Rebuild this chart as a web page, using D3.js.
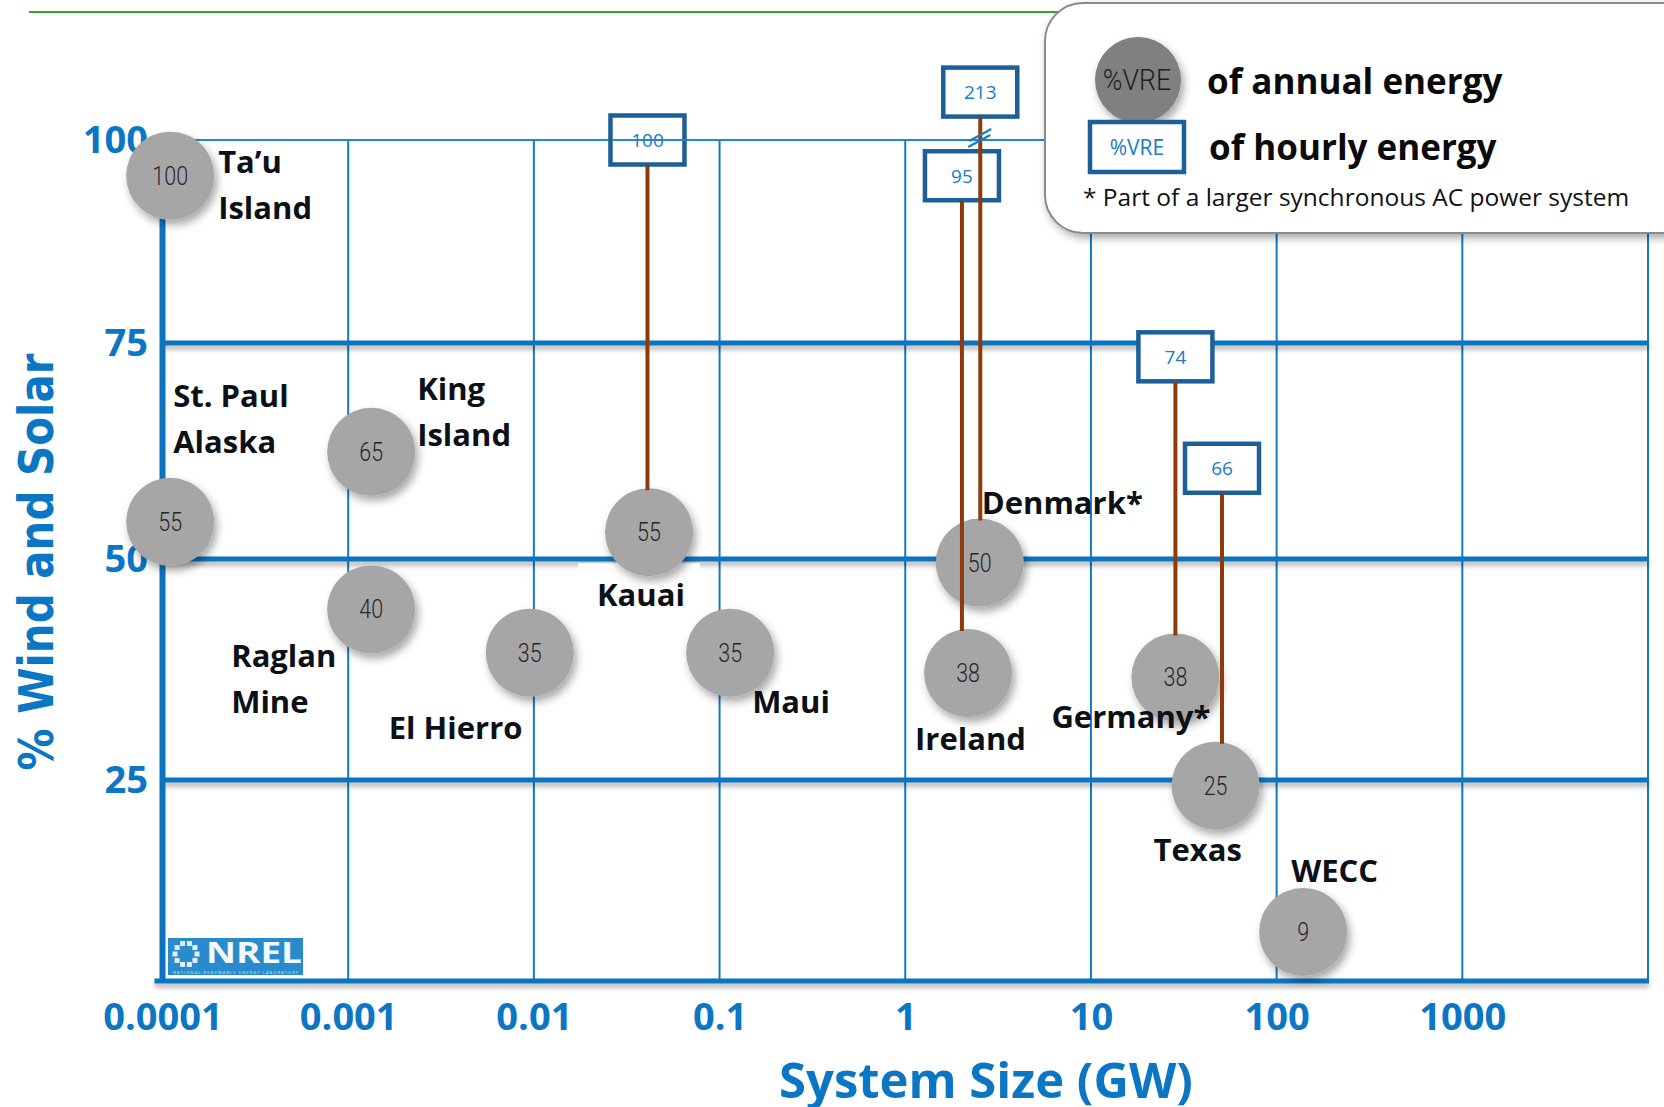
<!DOCTYPE html>
<html><head><meta charset="utf-8">
<script src="https://cdn.jsdelivr.net/npm/d3@7"></script>
<style>
html,body{margin:0;padding:0;background:#fff;}
svg{display:block;}
</style></head>
<body>
<svg id="chart" width="1664" height="1107"></svg>
<script>
// ---------------- data ----------------
const systems = ["Ta’u Island","St. Paul Alaska","King Island","Raglan Mine","El Hierro","Kauai","Maui","Ireland","Denmark*","Germany*","Texas","WECC"];
const labelLines = [["Ta’u","Island"],["St. Paul","Alaska"],["King","Island"],["Raglan","Mine"],["El Hierro"],["Kauai"],["Maui"],["Ireland"],["Denmark*"],["Germany*"],["Texas"],["WECC"]];
const systemSizeGW = [1.1e-4, 1.1e-4, 0.00133, 0.00133, 0.0095, 0.0417, 0.114, 2.18, 2.52, 28.5, 46.9, 139];
const annualVRE = [100, 55, 65, 40, 35, 55, 35, 38, 50, 38, 25, 9];
// vertical placement of each bubble as drawn in the picture (% axis units)
const annualPlotted = [95.6, 54.3, 62.4, 44.3, 39.4, 53.1, 39.4, 37.1, 49.6, 36.6, 24.3, 6.1];

const hourlySystems = ["Kauai","Ireland","Denmark*","Germany*","Texas"];
const hourlyVRE = [100, 95, 213, 74, 66];
const hourlySizeGW = [0.0409, 2.02, 2.535, 28.5, 50.8];
const hourlyPlotted = [100, 95.6, 105.9, 73.4, 60.5];
const brokenAxisSystem = "Denmark*";

const xTickValues = [1e-4, 1e-3, 1e-2, 1e-1, 1, 10, 100, 1000];
const xTickLabels = ["0.0001","0.001","0.01","0.1","1","10","100","1000"];
const yTickValues = [25, 50, 75, 100];
const yGridThick = [25, 50, 75];

const xTitle = "System Size (GW)";
const yTitle = "% Wind and Solar";
const legendAnnual = "of annual energy";
const legendHourly = "of hourly energy";
const legendSymbol = "%VRE";
const footnote = "* Part of a larger synchronous AC power system";

// ---------------- layout / style ----------------
const BLUE = "#0a76c4";
const BOXBLUE = "#1d5f98";
const BROWN = "#8f3a0b";
const R = 44;             // bubble radius
const BOXW = 74, BOXH = 49;
// label offsets (px) relative to bubble centre
const labelOffset = [[48,-3],[3,-115],[46,-52],[-140,58],[-141,86],[-52,74],[22,60],[-53,77],[2,-49],[-124,51],[-62,75],[-12,-50]];
const LINEH = 46;

const svg = d3.select("#chart");
const defs = svg.append("defs");
function shadow(id, dx, dy, sd, op, userSpace){
  const f = defs.append("filter").attr("id", id);
  if (userSpace) f.attr("filterUnits","userSpaceOnUse").attr("x",0).attr("y",0).attr("width",1664).attr("height",1107);
  else f.attr("x","-30%").attr("y","-30%").attr("width","170%").attr("height","170%");
  f.append("feDropShadow").attr("dx",dx).attr("dy",dy).attr("stdDeviation",sd).attr("flood-color","#000").attr("flood-opacity",op);
}
shadow("circShadow", 3, 5, 4, 0.35, false);
shadow("lineShadow", 0, 4, 2.5, 0.3, true);
shadow("legShadow", 3, 4, 4, 0.35, false);

const x = d3.scaleLog().domain([1e-4, 1e4]).range([162.5, 1648]);
const y = d3.scaleLinear().domain([0, 25, 50, 75, 100]).range([981, 780, 559, 343, 140]);

// green rule at top
svg.append("line").attr("x1",29).attr("x2",1300).attr("y1",12).attr("y2",12)
  .attr("stroke","#2ea52e").attr("stroke-width",2);

// ---------------- grid ----------------
const grid = svg.append("g");
// vertical gridlines
grid.selectAll("line.v").data(xTickValues.slice(1).concat([1e4])).join("line").attr("class","v")
  .attr("x1", d => x(d)).attr("x2", d => x(d))
  .attr("y1", y(100)).attr("y2", y(0))
  .attr("stroke", "#1479c6").attr("stroke-width", 2);
// thin top line
grid.append("line").attr("x1", x(1e-4)).attr("x2", x(1e4)).attr("y1", y(100)).attr("y2", y(100))
  .attr("stroke", "#2486d0").attr("stroke-width", 2);
// thick horizontal gridlines
grid.selectAll("line.h").data(yGridThick).join("line").attr("class","h")
  .attr("x1", x(1e-4)).attr("x2", x(1e4)+1)
  .attr("y1", d => y(d)).attr("y2", d => y(d))
  .attr("stroke", "#0a74c0").attr("stroke-width", 5).attr("filter","url(#lineShadow)");
// axes lines
grid.append("line").attr("x1", x(1e-4)).attr("x2", x(1e-4)).attr("y1", y(100)).attr("y2", y(0)+2)
  .attr("stroke", "#0a74c0").attr("stroke-width", 6);
grid.append("line").attr("x1", x(1e-4)-8).attr("x2", x(1e4)+1).attr("y1", y(0)).attr("y2", y(0))
  .attr("stroke", "#0a74c0").attr("stroke-width", 5).attr("filter","url(#lineShadow)");

// ---------------- axes text ----------------
const xAxis = d3.axisBottom(x).tickValues(xTickValues).tickFormat((d,i) => xTickLabels[i]).tickSize(0).tickPadding(22);
const gx = svg.append("g").attr("transform", `translate(0,${y(0)})`).call(xAxis);
gx.select(".domain").remove();
gx.selectAll("text").attr("fill", BLUE).attr("font-family","'Open Sans', sans-serif")
  .attr("font-weight", 700).attr("font-size", 38);

const yAxis = d3.axisLeft(y).tickValues(yTickValues).tickFormat(d3.format("d")).tickSize(0).tickPadding(0);
const gy = svg.append("g").attr("transform", "translate(148,0)").call(yAxis);
gy.select(".domain").remove();
gy.selectAll("text").attr("fill", BLUE).attr("font-family","'Open Sans', sans-serif")
  .attr("font-weight", 700).attr("font-size", 38);

svg.append("text").text(xTitle).attr("x", 986).attr("y", 1098).attr("text-anchor","middle")
  .attr("fill", BLUE).attr("font-family","'Open Sans', sans-serif").attr("font-weight",700).attr("font-size",49);
svg.append("text").text(yTitle).attr("transform","translate(53,562) rotate(-90)").attr("text-anchor","middle")
  .attr("fill", BLUE).attr("font-family","'DejaVu Sans', sans-serif").attr("font-weight",700).attr("font-size",48)
  .attr("textLength", 417).attr("lengthAdjust","spacingAndGlyphs");

// ---------------- NREL logo ----------------
const logo = svg.append("g").attr("transform","translate(168,938)");
logo.append("rect").attr("width",135).attr("height",37).attr("fill","#2a8bcc");
d3.range(10).forEach(i => {
  const a = i / 10 * 2 * Math.PI;
  logo.append("rect").attr("x", 18 + 11*Math.cos(a) - 2.5).attr("y", 16 + 11*Math.sin(a) - 2.5)
    .attr("width",5).attr("height",5).attr("fill","#dfeefa");
});
logo.append("text").text("NREL").attr("x",38).attr("y",25).attr("fill","#f2f8fc")
  .attr("font-family","'Open Sans', sans-serif").attr("font-weight",700).attr("font-size",28)
  .attr("textLength",96).attr("lengthAdjust","spacingAndGlyphs");
logo.append("text").text("NATIONAL RENEWABLE ENERGY LABORATORY").attr("x",5).attr("y",36).attr("fill","#cfe4f5")
  .attr("font-family","'Open Sans', sans-serif").attr("font-size",4).attr("textLength",125);

// ---------------- bubbles ----------------
const pts = systems.map((s, i) => ({name: s, lines: labelLines[i], cx: x(systemSizeGW[i]), cy: y(annualPlotted[i]), v: annualVRE[i], off: labelOffset[i]}));
const byName = new Map(pts.map(p => [p.name, p]));

// white backing behind the Kauai label
const kauai = byName.get("Kauai");
svg.append("rect").attr("x", kauai.cx - 71).attr("y", kauai.cy + 31).attr("width", 122).attr("height", 54).attr("fill", "#fff");

const bub = svg.append("g");
bub.selectAll("circle").data(pts).join("circle")
  .attr("cx", d => d.cx).attr("cy", d => d.cy).attr("r", R)
  .attr("fill", "#a6a6a6").attr("filter","url(#circShadow)");

// hourly boxes + connectors
const hr = hourlySystems.map((s, i) => ({name: s, v: hourlyVRE[i], cx: x(hourlySizeGW[i]), cy: y(hourlyPlotted[i]), target: byName.get(s)}));
const boxes = svg.append("g");
boxes.selectAll("rect").data(hr).join("rect")
  .attr("x", d => d.cx - BOXW/2).attr("y", d => d.cy - BOXH/2).attr("width", BOXW).attr("height", BOXH)
  .attr("fill", "#fff").attr("stroke", BOXBLUE).attr("stroke-width", 4.5);
boxes.selectAll("text").data(hr).join("text")
  .attr("x", d => d.cx).attr("y", d => d.cy).attr("dy","0.36em").attr("text-anchor","middle")
  .attr("fill", "#1a7cc4").attr("font-family","'Open Sans', sans-serif").attr("font-size", 19)
  .text(d => d.v);
// thin 100 line runs through the Kauai box (as in the picture)
svg.append("line").attr("x1", kauai.cx - BOXW/2).attr("x2", kauai.cx + BOXW/2).attr("y1", y(100)).attr("y2", y(100))
  .attr("stroke", "#2486d0").attr("stroke-width", 2);

svg.append("g").selectAll("line").data(hr).join("line")
  .attr("x1", d => d.cx).attr("x2", d => d.cx)
  .attr("y1", d => d.cy + BOXH/2 + 1).attr("y2", d => d.target.cy - R + 2)
  .attr("stroke", BROWN).attr("stroke-width", 4);

// axis-break marker on the line that goes off scale
const br = hr.find(d => d.name === brokenAxisSystem);
const bm = svg.append("g").attr("transform", `translate(${br.cx},${y(100)})`);
bm.append("line").attr("x1",-11).attr("y1",1).attr("x2",11).attr("y2",-11).attr("stroke","#1a7cc4").attr("stroke-width",2.2);
bm.append("line").attr("x1",-12).attr("y1",7).attr("x2",10).attr("y2",-5).attr("stroke","#1a7cc4").attr("stroke-width",2.2);

// bubble values
bub.selectAll("text").data(pts).join("text")
  .attr("transform", d => `translate(${d.cx},${d.cy}) scale(0.86,1)`)
  .attr("dy","0.36em").attr("text-anchor","middle")
  .attr("fill","#262626").attr("font-family","Roboto, sans-serif").attr("font-weight",300).attr("font-size",25)
  .text(d => d.v);

// system labels
const lab = svg.append("g").attr("font-family","'Open Sans', sans-serif").attr("font-weight",700)
  .attr("font-size",31).attr("fill","#0c1117");
pts.forEach(p => {
  p.lines.forEach((ln, j) => {
    lab.append("text").attr("x", p.cx + p.off[0]).attr("y", p.cy + p.off[1] + j*LINEH).text(ln);
  });
});

// ---------------- legend ----------------
const leg = svg.append("g");
leg.append("rect").attr("x",1045).attr("y",3).attr("width",660).attr("height",230).attr("rx",38)
  .attr("fill","#fff").attr("stroke","#8a8a8a").attr("stroke-width",2).attr("filter","url(#legShadow)");
leg.append("circle").attr("cx",1138).attr("cy",80).attr("r",43).attr("fill","#808080").attr("filter","url(#circShadow)");
leg.append("text").attr("transform","translate(1137,80) scale(0.92,1)").attr("dy","0.36em").attr("text-anchor","middle")
  .attr("fill","#1e1e1e").attr("font-family","Roboto, sans-serif").attr("font-weight",300).attr("font-size",29).text(legendSymbol);
leg.append("rect").attr("x",1090).attr("y",122).attr("width",94).attr("height",50)
  .attr("fill","#fff").attr("stroke",BOXBLUE).attr("stroke-width",4.5);
leg.append("text").attr("x",1137).attr("y",147).attr("dy","0.36em").attr("text-anchor","middle")
  .attr("fill","#1a7cc4").attr("font-family","'Open Sans', sans-serif").attr("font-size",21).text(legendSymbol);
leg.append("text").attr("x",1207).attr("y",94).attr("fill","#0b0b0b")
  .attr("font-family","'Open Sans', sans-serif").attr("font-weight",700).attr("font-size",35).text(legendAnnual);
leg.append("text").attr("x",1209).attr("y",160).attr("fill","#0b0b0b")
  .attr("font-family","'Open Sans', sans-serif").attr("font-weight",700).attr("font-size",35).text(legendHourly);
leg.append("text").attr("x",1083).attr("y",206).attr("fill","#111")
  .attr("font-family","'Open Sans', sans-serif").attr("font-size",24.5).text(footnote);
</script>
</body></html>
